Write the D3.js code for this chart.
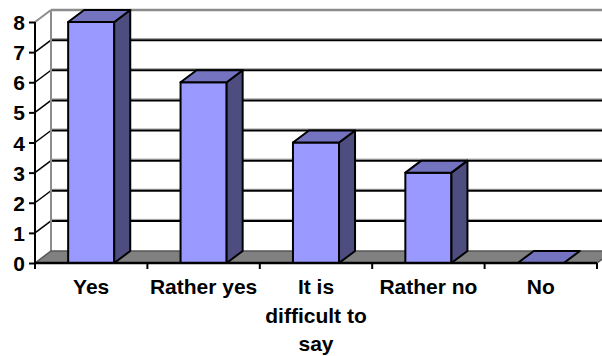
<!DOCTYPE html>
<html>
<head>
<meta charset="utf-8">
<script src="https://cdn.jsdelivr.net/npm/d3@7/dist/d3.min.js"></script>
<style>
  html, body { margin: 0; padding: 0; background: #fff; }
  svg { display: block; font-family: "Liberation Sans", Arial, sans-serif; font-weight: bold; }
</style>
</head>
<body>
<svg id="chart" width="602" height="356"></svg>
<script>
// Survey answers and counts
const categories = ["Yes", "Rather yes", "It is difficult to say", "Rather no", "No"];
const counts = [8, 6, 4, 3, 0];
const yTicks = [0, 1, 2, 3, 4, 5, 6, 7, 8];

const svg = d3.select("#chart");

// Front plane of the 3D box, and the depth offset to the back wall
const plotLeft = 35, plotRight = 597, plotBottom = 263, plotTop = 22;
const depthX = 16, depthY = -12;
const fontSize = 21;

const x = d3.scaleBand()
  .domain(categories)
  .range([plotLeft, plotRight])
  .paddingInner(0.59)
  .paddingOuter(0.295);

const y = d3.scaleLinear().domain([0, 8]).range([plotBottom, plotTop]);

const colors = {
  front: "#9999ff",
  side: "#4d4d80",
  top: "#7373bf",
  floor: "#808080",
  wallEdge: "#8c8c8c"
};

// Back wall gridlines
const grid = svg.append("g");
yTicks.filter(v => v > 0 && v < 8).forEach(v => {
  const yb = y(v) + depthY;
  grid.append("line")
    .attr("x1", plotLeft + depthX).attr("x2", 602)
    .attr("y1", yb - 1.5).attr("y2", yb - 1.5)
    .attr("stroke", "#9a9a9a").attr("stroke-width", 1);
  grid.append("line")
    .attr("x1", plotLeft + depthX).attr("x2", 602)
    .attr("y1", yb).attr("y2", yb)
    .attr("stroke", "#000").attr("stroke-width", 2);
  // side-wall segment connecting front tick to back gridline
  grid.append("line")
    .attr("x1", plotLeft).attr("y1", y(v))
    .attr("x2", plotLeft + depthX).attr("y2", yb)
    .attr("stroke", "#000").attr("stroke-width", 1.5);
});

// Top edge of back wall and its left corner
grid.append("line")
  .attr("x1", plotLeft + depthX).attr("x2", 602)
  .attr("y1", y(8) + depthY).attr("y2", y(8) + depthY)
  .attr("stroke", colors.wallEdge).attr("stroke-width", 2.5);
grid.append("line")
  .attr("x1", plotLeft).attr("y1", y(8))
  .attr("x2", plotLeft + depthX).attr("y2", y(8) + depthY)
  .attr("stroke", colors.wallEdge).attr("stroke-width", 2);
grid.append("line")
  .attr("x1", plotLeft + depthX).attr("x2", plotLeft + depthX)
  .attr("y1", y(8) + depthY).attr("y2", y(0) + depthY)
  .attr("stroke", colors.wallEdge).attr("stroke-width", 2);

// Floor
const floorPts = [
  [plotLeft, y(0)], [plotLeft + depthX, y(0) + depthY],
  [plotRight + depthX, y(0) + depthY], [plotRight, y(0)]
];
svg.append("polygon")
  .attr("points", floorPts.map(p => p.join(",")).join(" "))
  .attr("fill", colors.floor)
  .attr("stroke", "#555")
  .attr("stroke-width", 1.5);

// Columns
const bars = svg.append("g").selectAll("g")
  .data(categories.map((c, i) => ({ c, v: counts[i] })))
  .join("g");

bars.each(function(d) {
  const g = d3.select(this);
  const x0 = x(d.c), x1 = x0 + x.bandwidth();
  const yv = y(d.v), y0 = y(0);
  const pts = a => a.map(p => p.join(",")).join(" ");
  if (d.v > 0) {
    g.append("rect")
      .attr("x", x0).attr("y", yv)
      .attr("width", x1 - x0).attr("height", y0 - yv)
      .attr("fill", colors.front).attr("stroke", "#000").attr("stroke-width", 2)
      .attr("stroke-linejoin", "round");
    g.append("polygon")
      .attr("points", pts([[x1, yv], [x1 + depthX, yv + depthY], [x1 + depthX, y0 + depthY], [x1, y0]]))
      .attr("fill", colors.side).attr("stroke", "#000").attr("stroke-width", 2)
      .attr("stroke-linejoin", "round");
  }
  g.append("polygon")
    .attr("points", pts([[x0, yv], [x0 + depthX, yv + depthY], [x1 + depthX, yv + depthY], [x1, yv]]))
    .attr("fill", colors.top).attr("stroke", "#000").attr("stroke-width", 2)
    .attr("stroke-linejoin", "round");
});

// Value axis
const yAxis = svg.append("g").attr("transform", `translate(${plotLeft},0)`)
  .call(d3.axisLeft(y).tickValues(yTicks).tickFormat(d3.format("d")).tickSize(6).tickPadding(4));
yAxis.select(".domain").attr("stroke", "#000").attr("stroke-width", 2)
  .attr("d", `M0,${y(8)}V${y(0) + 4}`);
yAxis.selectAll(".tick line").attr("stroke", "#000").attr("stroke-width", 2);
yAxis.selectAll(".tick text")
  .attr("font-size", fontSize).attr("font-weight", "bold")
  .attr("font-family", "'Liberation Sans', Arial, sans-serif")
  .attr("fill", "#000").attr("dy", "0.36em");

// Category axis with ticks between categories
const step = x.step();
const boundaries = d3.range(categories.length + 1).map(i => plotLeft + i * step);
const xAxis = svg.append("g");
xAxis.append("line")
  .attr("x1", plotLeft).attr("x2", plotRight)
  .attr("y1", plotBottom).attr("y2", plotBottom)
  .attr("stroke", "#000").attr("stroke-width", 2.5);
xAxis.selectAll("line.tick")
  .data(boundaries)
  .join("line").attr("class", "tick")
  .attr("x1", d => d).attr("x2", d => d)
  .attr("y1", plotBottom).attr("y2", plotBottom + 6)
  .attr("stroke", "#000").attr("stroke-width", 2);

// Category labels, wrapped to the category width
const maxWidth = 112, lineHeight = 28.5;
categories.forEach(c => {
  const cx = x(c) + x.bandwidth() / 2;
  const text = svg.append("text")
    .attr("x", cx).attr("y", 294)
    .attr("text-anchor", "middle")
    .attr("font-size", fontSize).attr("font-weight", "bold")
    .attr("fill", "#000");
  const words = c.split(" ");
  let line = [];
  let tspan = text.append("tspan").attr("x", cx).attr("dy", 0);
  words.forEach(w => {
    line.push(w);
    tspan.text(line.join(" "));
    if (tspan.node().getComputedTextLength() > maxWidth && line.length > 1) {
      line.pop();
      tspan.text(line.join(" "));
      line = [w];
      tspan = text.append("tspan").attr("x", cx).attr("dy", lineHeight).text(w);
    }
  });
});
</script>
</body>
</html>
